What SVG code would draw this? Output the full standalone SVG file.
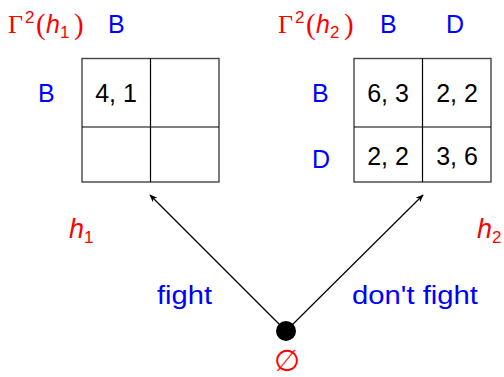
<svg xmlns="http://www.w3.org/2000/svg" width="504" height="377" viewBox="0 0 504 377">
<style>
.s{font-family:"Liberation Sans",Arial,sans-serif;font-size:25px}
.b{fill:#0000ff}
.r{fill:#ff0000}
.k{fill:#000}
.ser{font-family:"Liberation Serif","Times New Roman",serif;font-size:26px}
.par{font-family:"Liberation Serif","Times New Roman",serif;font-size:29px}
.it{font-style:italic}
.big{font-size:27px}
.sub{font-size:17px}
.grid{fill:none;stroke:#444;stroke-width:1.4}
.in{stroke:#000;stroke-width:1.2}
.edge{stroke:#000;stroke-width:1.2;fill:none}
</style>
<defs>
<marker id="ah" viewBox="0 0 10 10" refX="9" refY="5" markerWidth="8" markerHeight="8" markerUnits="userSpaceOnUse" orient="auto">
<path d="M0,1 L10,5 L0,9 L3,5 Z" fill="#000"/>
</marker>
</defs>
<g id="game1">
<text class="s r" y="33"><tspan class="ser" x="8">Γ</tspan><tspan class="sub" x="25" y="23">2</tspan><tspan class="par" x="36" y="34">(</tspan><tspan class="it" x="46" y="33">h</tspan><tspan class="sub" x="60" y="38">1</tspan><tspan class="par" x="74" y="34">)</tspan></text>
<text class="s b" x="108" y="33">B</text>
<text class="s b" x="38" y="102">B</text>
<rect class="grid" x="82" y="58.5" width="137" height="123.5"/>
<line class="in" x1="150.5" y1="58.5" x2="150.5" y2="182"/>
<line class="in" x1="82" y1="127" x2="219" y2="127"/>
<text class="s k" x="116" y="102" text-anchor="middle">4, 1</text>
</g>
<g id="game2">
<text class="s r" y="33"><tspan class="ser" x="278">Γ</tspan><tspan class="sub" x="295" y="23">2</tspan><tspan class="par" x="306" y="34">(</tspan><tspan class="it" x="316" y="33">h</tspan><tspan class="sub" x="330" y="38">2</tspan><tspan class="par" x="344" y="34">)</tspan></text>
<text class="s b" x="380" y="33">B</text>
<text class="s b" x="446" y="33">D</text>
<text class="s b" x="312" y="102">B</text>
<text class="s b" x="312" y="168">D</text>
<rect class="grid" x="354" y="58.5" width="137" height="123.5"/>
<line class="in" x1="422.5" y1="58.5" x2="422.5" y2="182"/>
<line class="in" x1="354" y1="127" x2="491" y2="127"/>
<text class="s k" x="388" y="102" text-anchor="middle">6, 3</text>
<text class="s k" x="457" y="102" text-anchor="middle">2, 2</text>
<text class="s k" x="388" y="165" text-anchor="middle">2, 2</text>
<text class="s k" x="457" y="165" text-anchor="middle">3, 6</text>
</g>
<g id="root">
<circle cx="286" cy="331" r="10" fill="#000"/>
<text class="r" x="287" y="371" text-anchor="middle" font-family="DejaVu Sans, sans-serif" font-size="30">∅</text>
</g>
<g id="h1label"><text class="s r" y="238"><tspan class="it big" x="69">h</tspan><tspan class="sub" x="84" y="243">1</tspan></text></g>
<g id="h2label"><text class="s r" y="238"><tspan class="it big" x="477">h</tspan><tspan class="sub" x="492" y="243">2</tspan></text></g>
<g id="connectors">
<line class="edge" x1="286" y1="331" x2="150" y2="195" marker-end="url(#ah)"/>
<line class="edge" x1="286" y1="331" x2="423" y2="195" marker-end="url(#ah)"/>
<text class="s b" x="157" y="304" textLength="55" lengthAdjust="spacingAndGlyphs">fight</text>
<text class="s b" x="352" y="304" textLength="126" lengthAdjust="spacingAndGlyphs">don't fight</text>
</g>
</svg>
